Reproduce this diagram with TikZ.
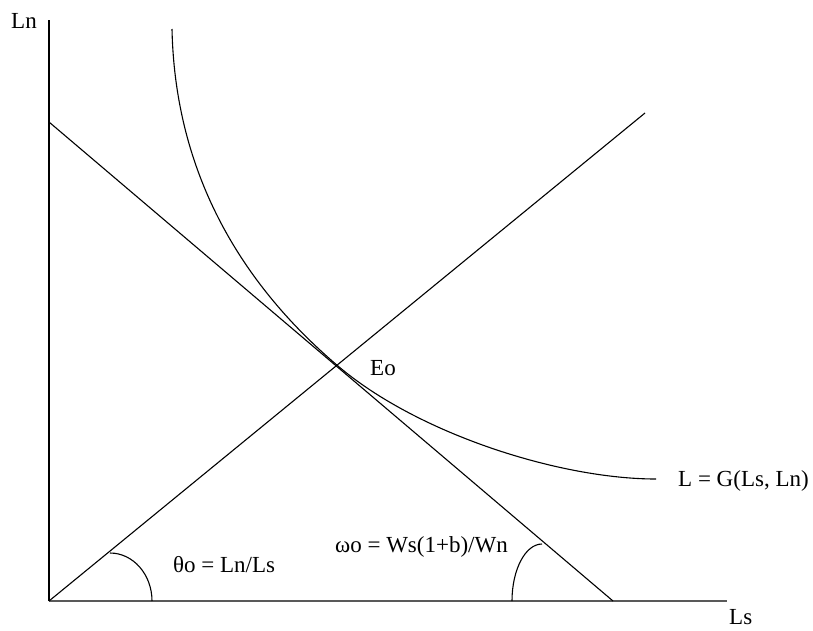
\documentclass[tikz,border=0pt]{standalone}
\usepackage{fontspec}
\setmainfont{Liberation Serif}
\begin{document}
\begin{tikzpicture}[x=1pt,y=-1pt,
  ln/.style={line width=1.1pt,black},
  lbl/.style={inner sep=0pt,anchor=base west,font=\fontsize{23}{27}\selectfont}]
\useasboundingbox (0,0) rectangle (813,630);
\coordinate (O) at (49,601);
\coordinate (ytop) at (49,20);
\coordinate (xend) at (727,601);
\coordinate (bA) at (49,122);
\coordinate (bB) at (613,601);
\coordinate (rEnd) at (645,113);
\coordinate (cS) at (172,29);
\coordinate (E) at (338,366);
\coordinate (cE) at (656,479);
% axes
\draw[ln] (O) -- (ytop);
\draw[line width=1.6pt,black!65] (O) -- (xend);
% budget line and ray
\draw[ln] (bA) -- (bB);
\draw[ln] (O) -- (rEnd);
% indifference curve
\draw[ln] (cS) .. controls (175,170) and (238,281) .. (E)
  .. controls (418,434) and (560,479) .. (cE);
% angle arcs
\draw[ln] (110,553) arc[start angle=90,end angle=0,x radius=42,y radius=-48];
\draw[ln] (512,601) arc[start angle=180,end angle=90,x radius=30,y radius=-57];
% labels
\node[lbl] (lLn) at (11,28) {Ln};
\node[lbl] (lLs) at (729,624) {Ls};
\node[lbl] (lE) at (370,375) {Eo};
\node[lbl] (lG) at (678,486) {L = G(Ls, Ln)};
\node[lbl] (lT) at (173,572) {θo = Ln/Ls};
\node[lbl,anchor=base east] (lW) at (508,552) {ωo = Ws(1+b)/Wn};
\end{tikzpicture}
\end{document}
